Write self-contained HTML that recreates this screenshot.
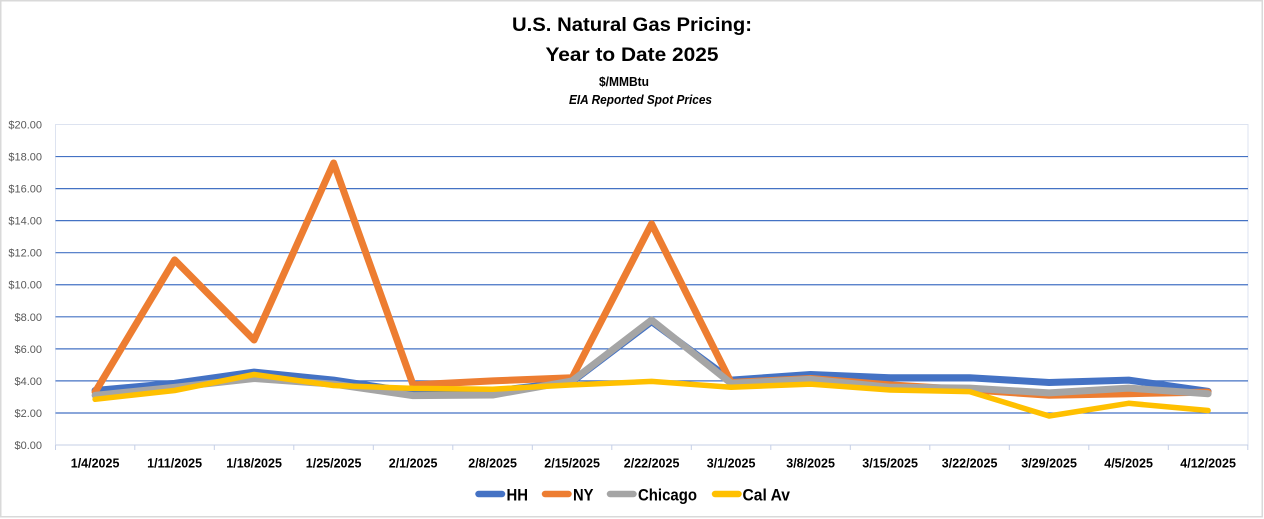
<!DOCTYPE html>
<html>
<head>
<meta charset="utf-8">
<style>
html,body{margin:0;padding:0;background:#fff;}
svg{display:block;}
</style>
</head>
<body>
<svg width="1264" height="519" viewBox="0 0 1264 519" xmlns="http://www.w3.org/2000/svg">
<rect x="0" y="0" width="1264" height="519" fill="#fff"/>
<rect x="0.75" y="0.75" width="1261.5" height="516" fill="none" stroke="#d9d9d9" stroke-width="1.5"/>

<!-- Titles -->
<g font-family="'Liberation Sans', Arial, sans-serif" font-weight="bold" fill="#000" text-anchor="middle">
<text x="632" y="31" font-size="19" textLength="240" lengthAdjust="spacingAndGlyphs">U.S. Natural Gas Pricing:</text>
<text x="632" y="61" font-size="19" textLength="173" lengthAdjust="spacingAndGlyphs">Year to Date 2025</text>
<text x="624" y="86" font-size="12.5" textLength="50" lengthAdjust="spacingAndGlyphs">$/MMBtu</text>
<text x="640.5" y="104" font-size="12.5" font-style="italic" textLength="143" lengthAdjust="spacingAndGlyphs">EIA Reported Spot Prices</text>
</g>

<!-- Plot border -->
<rect x="55.5" y="124.5" width="1192.5" height="320.5" fill="none" stroke="#dde3f0" stroke-width="1"/>

<!-- Gridlines -->
<g stroke="#4472c4" stroke-width="1.2">
<line x1="55.5" x2="1248" y1="413" y2="413"/>
<line x1="55.5" x2="1248" y1="380.9" y2="380.9"/>
<line x1="55.5" x2="1248" y1="348.9" y2="348.9"/>
<line x1="55.5" x2="1248" y1="316.8" y2="316.8"/>
<line x1="55.5" x2="1248" y1="284.75" y2="284.75"/>
<line x1="55.5" x2="1248" y1="252.7" y2="252.7"/>
<line x1="55.5" x2="1248" y1="220.65" y2="220.65"/>
<line x1="55.5" x2="1248" y1="188.6" y2="188.6"/>
<line x1="55.5" x2="1248" y1="156.55" y2="156.55"/>
</g>

<!-- Axis line and ticks -->
<g stroke="#c5cfe6" stroke-width="1">
<line x1="55.5" x2="1248" y1="445" y2="445"/>
<line x1="55.5" x2="55.5" y1="445" y2="450"/>
<line x1="134.8" x2="134.8" y1="445" y2="450"/>
<line x1="214.3" x2="214.3" y1="445" y2="450"/>
<line x1="293.8" x2="293.8" y1="445" y2="450"/>
<line x1="373.3" x2="373.3" y1="445" y2="450"/>
<line x1="452.8" x2="452.8" y1="445" y2="450"/>
<line x1="532.3" x2="532.3" y1="445" y2="450"/>
<line x1="611.8" x2="611.8" y1="445" y2="450"/>
<line x1="691.3" x2="691.3" y1="445" y2="450"/>
<line x1="770.8" x2="770.8" y1="445" y2="450"/>
<line x1="850.3" x2="850.3" y1="445" y2="450"/>
<line x1="929.8" x2="929.8" y1="445" y2="450"/>
<line x1="1009.3" x2="1009.3" y1="445" y2="450"/>
<line x1="1088.8" x2="1088.8" y1="445" y2="450"/>
<line x1="1168.3" x2="1168.3" y1="445" y2="450"/>
<line x1="1247.8" x2="1247.8" y1="445" y2="450"/>
</g>

<!-- Y labels -->
<g font-family="'Liberation Sans', Arial, sans-serif" font-size="11" fill="#595959" text-anchor="end">
<text x="42" y="128.5">$20.00</text>
<text x="42" y="160.5">$18.00</text>
<text x="42" y="192.6">$16.00</text>
<text x="42" y="224.6">$14.00</text>
<text x="42" y="256.7">$12.00</text>
<text x="42" y="288.7">$10.00</text>
<text x="42" y="320.8">$8.00</text>
<text x="42" y="352.9">$6.00</text>
<text x="42" y="384.9">$4.00</text>
<text x="42" y="417">$2.00</text>
<text x="42" y="449">$0.00</text>
</g>

<!-- X labels -->
<g font-family="'Liberation Sans', Arial, sans-serif" font-size="12.5" font-weight="bold" fill="#000" text-anchor="middle">
<text x="95.1" y="467.5">1/4/2025</text>
<text x="174.6" y="467.5">1/11/2025</text>
<text x="254.1" y="467.5">1/18/2025</text>
<text x="333.6" y="467.5">1/25/2025</text>
<text x="413.1" y="467.5">2/1/2025</text>
<text x="492.6" y="467.5">2/8/2025</text>
<text x="572.1" y="467.5">2/15/2025</text>
<text x="651.6" y="467.5">2/22/2025</text>
<text x="731.1" y="467.5">3/1/2025</text>
<text x="810.6" y="467.5">3/8/2025</text>
<text x="890.1" y="467.5">3/15/2025</text>
<text x="969.6" y="467.5">3/22/2025</text>
<text x="1049.1" y="467.5">3/29/2025</text>
<text x="1128.6" y="467.5">4/5/2025</text>
<text x="1208.1" y="467.5">4/12/2025</text>
</g>

<!-- Series -->
<g fill="none" stroke-linejoin="round" stroke-linecap="round">
<polyline stroke="#4472c4" stroke-width="7" points="95.1,390.5 174.6,383.3 254.1,372.1 333.6,380.1 413.1,392.1 492.6,391.3 572.1,381.7 651.6,321.6 731.1,380.1 810.6,374.5 890.1,377.7 969.6,377.7 1049.1,382.5 1128.6,380.1 1208.1,391.3"/>
<polyline stroke="#ed7d31" stroke-width="7" points="95.1,392.1 174.6,259.9 254.1,340.0 333.6,163.0 413.1,384.9 492.6,380.9 572.1,377.7 651.6,223.9 731.1,382.5 810.6,378.5 890.1,384.9 969.6,389.7 1049.1,395.3 1128.6,393.7 1208.1,392.1"/>
<polyline stroke="#a5a5a5" stroke-width="7" points="95.1,395.3 174.6,387.3 254.1,378.5 333.6,384.1 413.1,395.6 492.6,395.0 572.1,380.9 651.6,320.0 731.1,383.3 810.6,379.3 890.1,387.3 969.6,388.1 1049.1,392.9 1128.6,388.1 1208.1,393.7"/>
<polyline stroke="#ffc000" stroke-width="5.5" points="95.1,399.3 174.6,390.5 254.1,374.5 333.6,385.5 413.1,388.4 492.6,389.2 572.1,384.9 651.6,381.4 731.1,387.3 810.6,384.1 890.1,390.0 969.6,391.6 1049.1,416.0 1128.6,403.3 1208.1,410.5"/>
</g>

<!-- Legend -->
<g stroke-linecap="round" stroke-width="6.5">
<line x1="478.5" x2="502" y1="494" y2="494" stroke="#4472c4"/>
<line x1="545" x2="568.5" y1="494" y2="494" stroke="#ed7d31"/>
<line x1="610" x2="633.5" y1="494" y2="494" stroke="#a5a5a5"/>
<line x1="715" x2="738.5" y1="494" y2="494" stroke="#ffc000"/>
</g>
<g font-family="'Liberation Sans', Arial, sans-serif" font-size="17" font-weight="bold" fill="#000">
<text x="506.5" y="500.5" textLength="21.5" lengthAdjust="spacingAndGlyphs">HH</text>
<text x="573" y="500.5" textLength="20.5" lengthAdjust="spacingAndGlyphs">NY</text>
<text x="638" y="500.5" textLength="59" lengthAdjust="spacingAndGlyphs">Chicago</text>
<text x="742.5" y="500.5" textLength="47.5" lengthAdjust="spacingAndGlyphs">Cal Av</text>
</g>
</svg>
</body>
</html>
